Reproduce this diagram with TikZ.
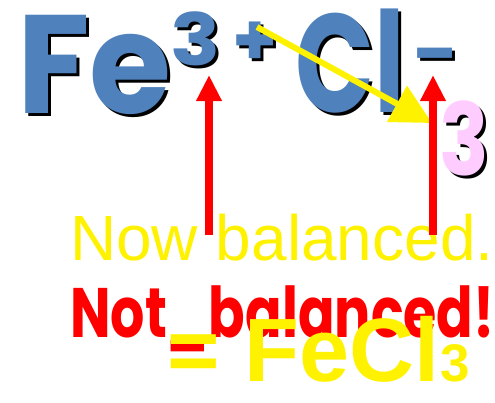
\documentclass[tikz,border=0pt]{standalone}
\usepackage{fontspec}
\usepackage{graphicx}
\setmainfont{Liberation Sans}
\newfontfamily\comic{Poppins}
\usetikzlibrary{arrows.meta, positioning}

\definecolor{ionblue}{RGB}{79,129,189}
\definecolor{subpink}{RGB}{255,204,255}

\newcommand{\comicsize}[1]{\comic\bfseries\fontsize{#1}{#1}\selectfont}

\begin{document}
\begin{tikzpicture}[x=1pt, y=-1pt,
			ion/.style={inner sep=0pt, anchor=base west, text=ionblue},
			shade/.style={inner sep=0pt, anchor=base west, text=black},
			uparrow/.style={-{Triangle[width=24pt, length=26pt]}, red, line width=8pt},
			swaparrow/.style={-{Triangle[width=40pt, length=40pt]}, yellow, line width=6pt}
			]
			\useasboundingbox (0,0) rectangle (495,402);
			
			% ions with shadow
			\node[shade] at (20,116) {\comicsize{140}\scalebox{0.95}[1]{Fe}};
			\node[ion] (fe) at (17,113) {\comicsize{140}\scalebox{0.95}[1]{Fe}};
			\node[shade] at (173,68) {\comicsize{72}\scalebox{1.15}[1]{3}\,+};
			\node[ion] (charge) at (170,65) {\comicsize{72}\scalebox{1.15}[1]{3}\,+};
			\node[shade] at (298,115) {\comicsize{140}\scalebox{0.74}[1]{Cl}};
			\node[ion] (cl) at (295,112) {\comicsize{140}\scalebox{0.74}[1]{Cl}};
			\node[shade] at (416,81) {\comicsize{72}\scalebox{1.1}[1]{-}};
			\node[ion] (minus) at (413,78) {\comicsize{72}\scalebox{1.1}[1]{-}};
			\node[shade] at (442,178) {\comicsize{100}\scalebox{0.82}[1]{3}};
			\node[ion, text=subpink] (sub) at (439,175) {\comicsize{100}\scalebox{0.82}[1]{3}};
			
			% captions
			\node[inner sep=0pt, anchor=base west, text=yellow, font=\fontsize{64}{64}\selectfont] (now) at (70,260) {Now balanced.};
			\node[inner sep=0pt, anchor=base west, text=red] (notbal) at (70,337) {\comicsize{70}\scalebox{0.77}[1]{Not\_balanced!}};
			\node[inner sep=0pt, anchor=base west, text=yellow, font=\bfseries\fontsize{90}{90}\selectfont] (result) at (167,381) {= FeCl};
			\node[inner sep=0pt, anchor=base west, text=yellow, font=\bfseries\fontsize{53}{53}\selectfont] (resultsub) at (result.base east) {3};
			
			% arrows
			\coordinate (swapfrom) at (257,27);
			\coordinate (swapto) at (432,123);
			\draw[swaparrow] (swapfrom) -- (swapto);
			\coordinate (lowL) at (209,235);
			\coordinate (tipL) at (209,75);
			\coordinate (lowR) at (433,235);
			\coordinate (tipR) at (433,75);
			\draw[uparrow] (lowL) -- (tipL);
			\draw[uparrow] (lowR) -- (tipR);
		\end{tikzpicture}
\end{document}
